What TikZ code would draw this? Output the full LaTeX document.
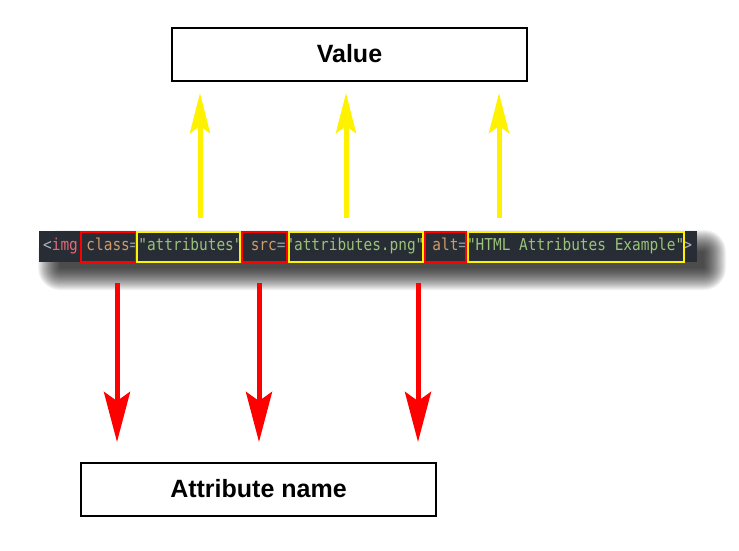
\documentclass[tikz,border=0pt]{standalone}
\usepackage{fontspec}
\setmainfont{Liberation Sans}
\setmonofont[FakeStretch=0.88]{DejaVu Sans Mono}
\usetikzlibrary{arrows.meta}
\definecolor{codebg}{HTML}{282C34}
\definecolor{tagred}{HTML}{E06C75}
\definecolor{attrorange}{HTML}{D19A66}
\definecolor{strgreen}{HTML}{98C379}
\definecolor{punctgray}{HTML}{ABB2BF}
\definecolor{eqgray}{HTML}{8A96A3}
\tikzset{
  labelbox/.style={draw=black,line width=2pt,fill=white,minimum width=355pt,minimum height=53pt,inner sep=0pt,font=\fontsize{25}{28}\selectfont\bfseries},
  codetok/.style={anchor=base west,inner sep=0pt,font=\fontsize{16.4}{18}\ttfamily},
  redbox/.style={draw=red,line width=2pt},
  yelbox/.style={draw=yellow,line width=2pt},
  shadowlayer/.style={fill=black,fill opacity=0.05},
  redarrow/.style={draw=red,line width=5pt,-{Stealth[length=50pt,width=26pt,inset=9pt]}},
  yelarrow/.style={draw=yellow,line width=5pt,-{Stealth[length=40pt,width=20pt,inset=7pt]}},
}
\begin{document}
\begin{tikzpicture}[x=1pt,y=-1pt]
\useasboundingbox (0,0) rectangle (739,550);
% shadow
\foreach \k in {0,1,...,22}{
  \fill[shadowlayer,rounded corners=\k pt] (60-\k,252-\k) rectangle (704+\k,268+\k);
}
% code strip
\fill[codebg] (39,231) rectangle (697,262);
\node[codetok,text=punctgray] (t0) at (43,250) {<};
\node[codetok,text=tagred] (t1) at (51.65,250) {img};
\node[codetok,text=attrorange] (t2) at (86.25,250) {class};
\node[codetok,text=eqgray] (t3) at (129.5,250) {=};
\node[codetok,text=strgreen] (t4) at (138.15,250) {"attributes"};
\node[codetok,text=attrorange] (t5) at (250.6,250) {src};
\node[codetok,text=eqgray] (t6) at (276.55,250) {=};
\node[codetok,text=strgreen] (t7) at (285.2,250) {"attributes.png"};
\node[codetok,text=attrorange] (t8) at (432.25,250) {alt};
\node[codetok,text=eqgray] (t9) at (458.2,250) {=};
\node[codetok,text=strgreen] (t10) at (466.85,250) {"HTML Attributes Example"};
\node[codetok,text=punctgray] (t11) at (683.1,250) {>};
% highlight boxes
\draw[redbox] (81,232) rectangle (136,262);
\draw[yelbox] (137,232) rectangle (240,262);
\draw[redbox] (242,232) rectangle (287,262);
\draw[yelbox] (289,232) rectangle (423,262);
\draw[redbox] (425,232) rectangle (466,262);
\draw[yelbox] (468,232) rectangle (684,262);
% label boxes
\node[labelbox] (value) at (349.5,54) {Value};
\node[labelbox] (attr) at (258.5,489) {Attribute name};
% arrows
\coordinate (y1s) at (200,218); \coordinate (y1e) at (200,93);
\coordinate (y2s) at (346,218); \coordinate (y2e) at (346,93);
\coordinate (y3s) at (499,218); \coordinate (y3e) at (499,93);
\draw[yelarrow] (y1s) -- (y1e);
\draw[yelarrow] (y2s) -- (y2e);
\draw[yelarrow] (y3s) -- (y3e);
\coordinate (r1s) at (117,283); \coordinate (r1e) at (117,442);
\coordinate (r2s) at (259,283); \coordinate (r2e) at (259,442);
\coordinate (r3s) at (418,283); \coordinate (r3e) at (418,442);
\draw[redarrow] (r1s) -- (r1e);
\draw[redarrow] (r2s) -- (r2e);
\draw[redarrow] (r3s) -- (r3e);
\end{tikzpicture}
\end{document}
